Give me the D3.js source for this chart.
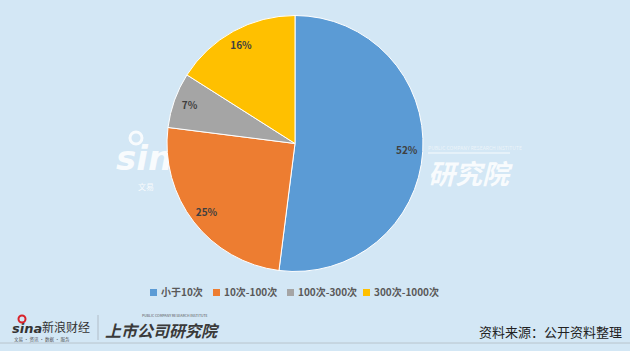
<!DOCTYPE html>
<html>
<head>
<meta charset="utf-8">
<script src="https://cdn.jsdelivr.net/npm/d3@7"></script>
<style>
  body { margin: 0; background: #d3e7f5; }
  svg { display: block; font-family: "Noto Sans CJK SC", "Noto Sans", sans-serif; }
</style>
</head>
<body>
<svg id="chart" width="630" height="351"></svg>
<script>
// Data
const categories = ["小于10次", "10次-100次", "100次-300次", "300次-1000次"];
const shares = [52, 25, 7, 16];
const colors = ["#5b9bd5", "#ed7d31", "#a5a5a5", "#ffc000"];

const svg = d3.select("#chart");
const width = +svg.attr("width");
const height = +svg.attr("height");

svg.append("rect").attr("width", width).attr("height", height).attr("fill", "#d3e7f5");

// Watermark behind the pie
const wm = svg.append("g").attr("fill", "#ffffff").attr("opacity", 0.85);
wm.append("circle").attr("cx", 136).attr("cy", 138).attr("r", 6)
    .attr("fill", "none").attr("stroke", "#ffffff").attr("stroke-width", 3);
wm.append("text")
    .attr("x", 116).attr("y", 170)
    .style("font-family", "DejaVu Sans, sans-serif")
    .style("font-size", "34px").style("font-weight", "bold").style("font-style", "italic")
    .text("sina");
wm.append("text")
    .attr("x", 138).attr("y", 190)
    .style("font-size", "8px")
    .text("文易");
wm.append("text")
    .attr("x", 428).attr("y", 184)
    .style("font-size", "27px").style("font-style", "italic").style("font-weight", "bold")
    .text("研究院");
wm.append("text")
    .attr("x", 428).attr("y", 150)
    .style("font-size", "5px").attr("opacity", 0.7)
    .text("PUBLIC COMPANY RESEARCH INSTITUTE");
wm.append("line")
    .attr("x1", 428).attr("x2", 510).attr("y1", 153).attr("y2", 153)
    .attr("stroke", "#ffffff").attr("stroke-width", 1);

// Pie
const cx = 295, cy = 143.5, radius = 128;
const pie = d3.pie().sort(null).value(d => d)(shares);
const arc = d3.arc().innerRadius(0).outerRadius(radius);
const labelArc = d3.arc().innerRadius(112).outerRadius(112);

const g = svg.append("g").attr("transform", `translate(${cx},${cy})`);

g.selectAll("path")
    .data(pie)
    .join("path")
    .attr("d", arc)
    .attr("fill", (d, i) => colors[i])
    .attr("stroke", "#ffffff")
    .attr("stroke-width", 1);

g.selectAll("text.lbl")
    .data(pie)
    .join("text")
    .attr("class", "lbl")
    .attr("transform", d => `translate(${labelArc.centroid(d)})`)
    .attr("text-anchor", "middle")
    .attr("dy", "0.35em")
    .style("font-size", "10px")
    .style("font-weight", "bold")
    .style("fill", "#404040")
    .text(d => d.data + "%");

// Legend
const legendX = [150, 213, 287, 363];
const legend = svg.append("g");
categories.forEach((c, i) => {
    const item = legend.append("g").attr("transform", `translate(${legendX[i]}, 292.5)`);
    item.append("rect")
        .attr("x", 0).attr("y", -3.5)
        .attr("width", 7).attr("height", 7)
        .attr("fill", colors[i]);
    item.append("text")
        .attr("x", 11).attr("dy", "0.35em")
        .style("font-size", "10px")
        .style("font-weight", "bold")
        .style("fill", "#595959")
        .text(c);
});

// Footer
const foot = svg.append("g");
foot.append("line")
    .attr("x1", 0).attr("x2", width).attr("y1", 343).attr("y2", 343)
    .attr("stroke", "#b8c4cc").attr("stroke-width", 1);
foot.append("text")
    .attr("x", 12).attr("y", 333)
    .style("font-family", "DejaVu Sans, sans-serif")
    .style("font-size", "13px").style("font-weight", "bold").style("font-style", "italic")
    .style("fill", "#333")
    .text("sina");
foot.append("circle").attr("cx", 22).attr("cy", 319).attr("r", 3.5)
    .attr("fill", "none").attr("stroke", "#d9222a").attr("stroke-width", 2);
foot.append("text")
    .attr("x", 42).attr("y", 332)
    .style("font-size", "12px").style("fill", "#333")
    .text("新浪财经");
foot.append("text")
    .attr("x", 14).attr("y", 341)
    .style("font-size", "4.5px").style("fill", "#555")
    .text("文易 · 资讯 · 数据 · 服务");
foot.append("line")
    .attr("x1", 98).attr("x2", 98).attr("y1", 315).attr("y2", 340)
    .attr("stroke", "#aab4bc").attr("stroke-width", 0.8);
foot.append("text")
    .attr("x", 105).attr("y", 337)
    .style("font-size", "16px").style("font-weight", "bold").style("font-style", "italic")
    .style("fill", "#3a3a3a")
    .text("上市公司研究院");
foot.append("text")
    .attr("x", 142).attr("y", 317)
    .style("font-size", "3.5px").style("fill", "#555")
    .text("PUBLIC COMPANY RESEARCH INSTITUTE");
foot.append("text")
    .attr("x", 622).attr("y", 337)
    .attr("text-anchor", "end")
    .style("font-size", "13px").style("fill", "#222")
    .text("资料来源：公开资料整理");
</script>
</body>
</html>
